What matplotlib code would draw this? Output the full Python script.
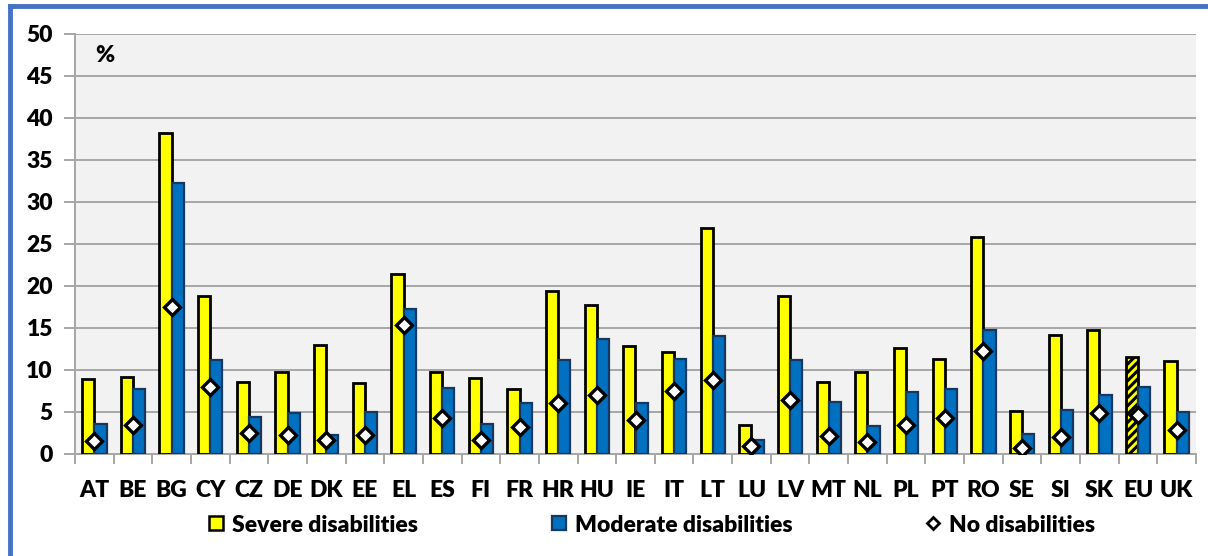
import matplotlib
matplotlib.use("Agg")
import matplotlib.pyplot as plt
from matplotlib.lines import Line2D
import numpy as np

countries = ["AT", "BE", "BG", "CY", "CZ", "DE", "DK", "EE", "EL", "ES", "FI", "FR", "HR", "HU",
             "IE", "IT", "LT", "LU", "LV", "MT", "NL", "PL", "PT", "RO", "SE", "SI", "SK", "EU", "UK"]
severe = [8.9, 9.2, 38.2, 18.8, 8.6, 9.8, 13.0, 8.5, 21.4, 9.8, 9.1, 7.7, 19.4, 17.7,
          12.9, 12.1, 26.9, 3.4, 18.8, 8.6, 9.8, 12.6, 11.3, 25.8, 5.1, 14.2, 14.8, 11.6, 11.1]
moderate = [3.6, 7.7, 32.3, 11.2, 4.4, 4.9, 2.3, 5.0, 17.3, 7.9, 3.6, 6.1, 11.2, 13.7,
            6.1, 11.3, 14.0, 1.7, 11.2, 6.2, 3.3, 7.4, 7.7, 14.8, 2.4, 5.2, 7.0, 8.0, 5.0]
no_dis = [1.5, 3.4, 17.5, 8.0, 2.5, 2.3, 1.7, 2.3, 15.4, 4.3, 1.7, 3.2, 6.1, 7.0,
          4.1, 7.5, 8.8, 0.9, 6.4, 2.2, 1.4, 3.4, 4.3, 12.3, 0.7, 2.0, 4.9, 4.7, 2.8]
yticks = list(range(0, 51, 5))
legend_labels = ["Severe disabilities", "Moderate disabilities", "No disabilities"]

plt.rcParams['font.family'] = ['Lato', 'DejaVu Sans']
plt.rcParams['font.weight'] = 'heavy'
plt.rcParams['hatch.linewidth'] = 2.2
plt.rcParams['hatch.color'] = 'black'

FW = 'heavy'
FS = 16.5

W, H = 1208, 556
fig = plt.figure(figsize=(W / 100, H / 100), dpi=100)
fig.patch.set_facecolor('white')

ax = fig.add_axes([75 / W, (H - 454) / H, 1121 / W, 420 / H])
x = np.arange(len(countries))
w = 0.315

yellow = '#FFFF00'
blue = '#0070C0'
grid_c = '#A6A6A6'

bars_s = ax.bar(x - w / 2, severe, w, color=yellow, edgecolor='black', linewidth=2.0, zorder=3)
eu = countries.index("EU")
bars_s[eu].set_hatch('////')
bars_m = ax.bar(x + w / 2, moderate, w, color=blue, edgecolor='#17375E', linewidth=1.6, zorder=3)
ax.plot(x, no_dis, linestyle='none', marker='D', markersize=8, markerfacecolor='white',
        markeredgecolor='black', markeredgewidth=2.4, zorder=5)

ax.set_xlim(-0.5, len(countries) - 0.5)
ax.set_ylim(0, 50)
ax.set_yticks(yticks)
ax.set_yticklabels([str(v) for v in yticks], fontsize=FS, fontweight=FW)
ax.set_facecolor('#F2F2F2')
ax.grid(axis='y', color=grid_c, linewidth=1.4, zorder=0)
ax.set_axisbelow(True)

ax.set_xticks(x)
ax.set_xticklabels(countries, fontsize=FS, fontweight=FW)
ax.set_xticks(np.arange(-0.5, len(countries), 1), minor=True)
ax.tick_params(axis='x', which='major', length=0, pad=19)
ax.tick_params(axis='x', which='minor', length=7, color=grid_c, width=1.4)
ax.tick_params(axis='y', length=8, color=grid_c, width=1.4, pad=8)
for s in ['top', 'right']:
    ax.spines[s].set_visible(False)
for s in ['left', 'bottom']:
    ax.spines[s].set_color(grid_c)
    ax.spines[s].set_linewidth(1.4)

ax.text(0.018, 0.975, "%", transform=ax.transAxes, fontsize=FS, fontweight=FW,
        va='top', ha='left')

handles = [
    Line2D([], [], linestyle='none', marker='s', markersize=10, markerfacecolor=yellow,
           markeredgecolor='black', markeredgewidth=1.8),
    Line2D([], [], linestyle='none', marker='s', markersize=10, markerfacecolor=blue,
           markeredgecolor='#17375E', markeredgewidth=1.6),
    Line2D([], [], linestyle='none', marker='D', markersize=6.5, markerfacecolor='white',
           markeredgecolor='black', markeredgewidth=2.0),
]
fig.legend(handles, legend_labels, loc='center', bbox_to_anchor=(651 / W, 1 - 525 / H),
           ncol=3, frameon=False, prop={'size': FS, 'weight': FW},
           handlelength=0.8, handletextpad=0.3, columnspacing=5.75)

# blue frame around the figure (left and top edges visible)
border = '#4472C4'
fig.add_artist(Line2D([9.5 / W, 9.5 / W], [0, 1 - 5.5 / H], transform=fig.transFigure,
                      color=border, linewidth=3.5))
fig.add_artist(Line2D([9.5 / W, 1], [1 - 5.5 / H, 1 - 5.5 / H], transform=fig.transFigure,
                      color=border, linewidth=3.5))

fig.savefig("out.png", dpi=100, facecolor='white')
